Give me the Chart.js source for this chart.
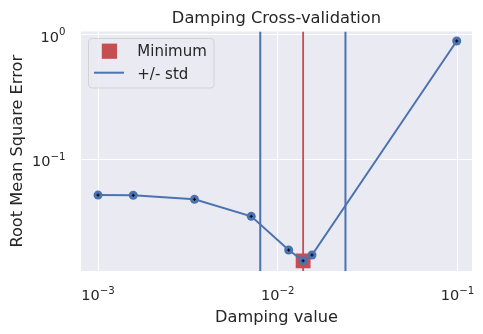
<!DOCTYPE html>
<html>
<head>
<meta charset="utf-8">
<script src="https://cdn.jsdelivr.net/npm/chart.js@4/dist/chart.umd.min.js"></script>
<style>
  html, body { margin: 0; padding: 0; background: #ffffff; }
  #wrap { width: 483px; height: 334px; }
</style>
</head>
<body>
<div id="wrap"><canvas id="c" width="483" height="334"></canvas></div>
<script>
// ---- data ----
const dampingValues = [0.001, 0.00157, 0.00344, 0.00712, 0.0115, 0.01384, 0.0155, 0.099];
const rmseValues = [0.0512, 0.0510, 0.0473, 0.0345, 0.01845, 0.0151, 0.01683, 0.895];
const minimumPoint = [0.01384, 0.0151];
const stdBounds = [0.00799, 0.0238];
const xTickValues = [0.001, 0.01, 0.1];
const xTickExponents = ['\u22123', '\u22122', '\u22121'];
const yTickValues = [1, 0.1];
const yTickExponents = ['0', '\u22121'];
const xRange = [0.000804, 0.1204];
const yRange = [0.0125, 1.067];

const BLUE = '#4C72B0', RED = '#C44E52', TEXT = '#262626', FONT = '"DejaVu Sans", sans-serif';

const linePts = dampingValues.map((x, i) => ({ x: x, y: rmseValues[i] }));
const vline = (v) => [{ x: v, y: yRange[0] }, { x: v, y: yRange[1] }];

const deco = {
  id: 'deco',
  beforeDraw(chart) {
    const { ctx, chartArea: a } = chart;
    ctx.save();
    ctx.fillStyle = '#EAEAF2';
    ctx.fillRect(a.left, a.top, a.right - a.left, a.bottom - a.top);
    ctx.restore();
  },
  afterDraw(chart) {
    const { ctx, chartArea: a } = chart;
    const xs = chart.scales.x, ys = chart.scales.y;
    ctx.save();
    ctx.fillStyle = TEXT;
    // x tick labels
    ctx.textBaseline = 'alphabetic';
    xTickValues.forEach((v, i) => {
      const px = xs.getPixelForValue(v);
      ctx.font = '14.5px ' + FONT;
      const wb = ctx.measureText('10').width;
      ctx.font = '10.2px ' + FONT;
      const we = ctx.measureText(xTickExponents[i]).width;
      const start = px - (wb + we) / 2;
      ctx.font = '14.5px ' + FONT;
      ctx.textAlign = 'left';
      ctx.fillText('10', start, 299.5);
      ctx.font = '10.2px ' + FONT;
      ctx.fillText(xTickExponents[i], start + wb, 293.5);
    });
    // y tick labels
    yTickValues.forEach((v, i) => {
      const py = ys.getPixelForValue(v);
      const right = 65.5;
      ctx.font = '10.2px ' + FONT;
      const we = ctx.measureText(yTickExponents[i]).width;
      ctx.textAlign = 'left';
      ctx.fillText(yTickExponents[i], right - we, py + 0.5);
      ctx.font = '14.5px ' + FONT;
      ctx.textAlign = 'right';
      ctx.fillText('10', right - we, py + 6.8);
    });
    // title
    ctx.textAlign = 'center';
    ctx.font = '16.3px ' + FONT;
    ctx.fillText('Damping Cross-validation', (a.left + a.right) / 2, 22.5);
    // x label
    ctx.font = '16.2px ' + FONT;
    ctx.fillText('Damping value', (a.left + a.right) / 2, 321.8);
    // y label
    ctx.save();
    ctx.translate(21.5, (a.top + a.bottom) / 2);
    ctx.rotate(-Math.PI / 2);
    ctx.fillText('Root Mean Square Error', 0, 0);
    ctx.restore();
    // legend
    const lx = 88.5, ly = 38.5, lw = 125.5, lh = 49.5, r = 3.5;
    ctx.beginPath();
    ctx.moveTo(lx + r, ly);
    ctx.arcTo(lx + lw, ly, lx + lw, ly + lh, r);
    ctx.arcTo(lx + lw, ly + lh, lx, ly + lh, r);
    ctx.arcTo(lx, ly + lh, lx, ly, r);
    ctx.arcTo(lx, ly, lx + lw, ly, r);
    ctx.closePath();
    ctx.fillStyle = 'rgba(234,234,242,0.8)';
    ctx.fill();
    ctx.strokeStyle = 'rgba(204,204,204,0.8)';
    ctx.lineWidth = 1;
    ctx.stroke();
    ctx.fillStyle = RED;
    ctx.fillRect(101.8, 43.6, 15.2, 15.2);
    ctx.strokeStyle = BLUE;
    ctx.lineWidth = 2;
    ctx.beginPath();
    ctx.moveTo(94, 72.7);
    ctx.lineTo(124, 72.7);
    ctx.stroke();
    ctx.fillStyle = TEXT;
    ctx.font = '15px ' + FONT;
    ctx.textAlign = 'left';
    ctx.fillText('Minimum', 137.3, 55.6);
    ctx.fillText('+/- std', 137.3, 78.8);
    ctx.restore();
  }
};

const zeroSize = function (scale) {
  if (scale.isHorizontal()) scale.height = 0; else scale.width = 0;
};

new Chart(document.getElementById('c'), {
  type: 'line',
  data: {
    datasets: [
      { data: linePts, borderColor: 'transparent', backgroundColor: 'transparent',
        showLine: false, pointStyle: 'cross', pointRadius: 1.6, pointBorderColor: '#000000',
        pointBorderWidth: 1, pointHoverRadius: 0, order: 1 },
      { data: linePts, borderColor: BLUE, borderWidth: 2, tension: 0,
        pointRadius: 4.5, pointBackgroundColor: BLUE, pointBorderWidth: 0, order: 2 },
      { data: [{ x: minimumPoint[0], y: minimumPoint[1] }], showLine: false,
        pointStyle: 'rect', pointRadius: 10.5, pointBackgroundColor: RED, pointBorderWidth: 0, order: 3 },
      { data: vline(minimumPoint[0]), borderColor: RED, borderWidth: 1.8, pointRadius: 0, order: 4 },
      { data: vline(stdBounds[0]), borderColor: BLUE, borderWidth: 2, pointRadius: 0, order: 5 },
      { data: vline(stdBounds[1]), borderColor: BLUE, borderWidth: 2, pointRadius: 0, order: 5 }
    ]
  },
  options: {
    responsive: false,
    animation: false,
    devicePixelRatio: 1,
    layout: { padding: { left: 81, right: 11, top: 31.5, bottom: 63 } },
    plugins: { legend: { display: false }, tooltip: { enabled: false }, title: { display: false } },
    events: [],
    scales: {
      x: {
        type: 'logarithmic', min: xRange[0], max: xRange[1], offset: false,
        afterBuildTicks: (s) => { s.ticks = xTickValues.map(v => ({ value: v })); },
        afterFit: zeroSize,
        ticks: { display: false },
        grid: { color: '#ffffff', lineWidth: 1, drawTicks: false },
        border: { display: false }
      },
      y: {
        type: 'logarithmic', min: yRange[0], max: yRange[1], offset: false,
        afterBuildTicks: (s) => { s.ticks = yTickValues.map(v => ({ value: v })); },
        afterFit: zeroSize,
        ticks: { display: false },
        grid: { color: '#ffffff', lineWidth: 1, drawTicks: false },
        border: { display: false }
      }
    }
  },
  plugins: [deco]
});
</script>
</body>
</html>
